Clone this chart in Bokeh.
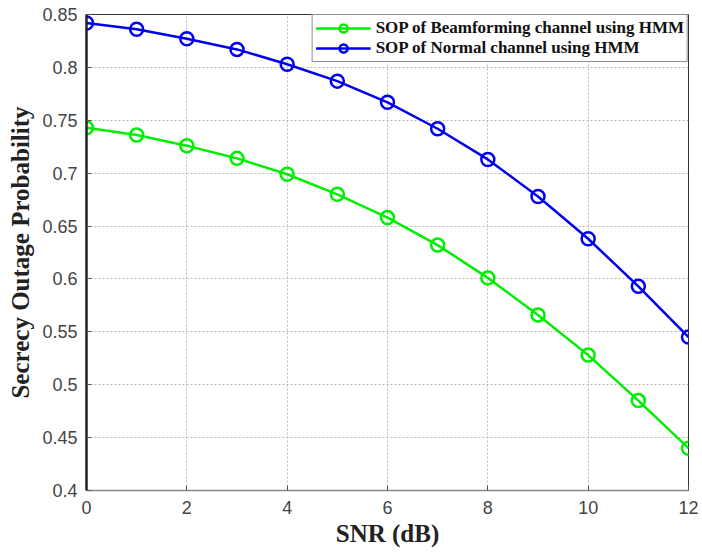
from bokeh.plotting import figure
from bokeh.models import ColumnDataSource, Range1d, FixedTicker, Legend, LegendItem
from bokeh.embed import file_html
from bokeh.resources import INLINE

snr = [0, 1, 2, 3, 4, 5, 6, 7, 8, 9, 10, 11, 12]
sop_beam = [0.743, 0.736, 0.726, 0.714, 0.699, 0.680, 0.658, 0.632, 0.601, 0.566, 0.528, 0.485, 0.440]
sop_normal = [0.842, 0.836, 0.827, 0.817, 0.803, 0.787, 0.767, 0.742, 0.713, 0.678, 0.638, 0.593, 0.545]
x_ticks = [0, 2, 4, 6, 8, 10, 12]
y_ticks = [0.4, 0.45, 0.5, 0.55, 0.6, 0.65, 0.7, 0.75, 0.8, 0.85]
y_tick_labels = ["0.4", "0.45", "0.5", "0.55", "0.6", "0.65", "0.7", "0.75", "0.8", "0.85"]
names = ["SOP of Beamforming channel using HMM", "SOP of Normal channel using HMM"]

p = figure(width=702, height=555, output_backend="svg", toolbar_location=None,
           x_range=Range1d(0, 12), y_range=Range1d(0.4, 0.85),
           min_border_left=86, min_border_right=14, min_border_top=14, min_border_bottom=65)

src = ColumnDataSource(dict(x=snr, a=sop_beam, b=sop_normal))

r1 = p.line("x", "a", source=src, line_color="#00ee00", line_width=2.5)
c1 = p.scatter("x", "a", source=src, marker="circle", size=13, fill_color=None,
               line_color="#00ee00", line_width=2.5)
r2 = p.line("x", "b", source=src, line_color="#0000ee", line_width=2.5)
c2 = p.scatter("x", "b", source=src, marker="circle", size=13, fill_color=None,
               line_color="#0000ee", line_width=2.5)

legend = Legend(items=[LegendItem(label=names[0], renderers=[r1, c1]),
                       LegendItem(label=names[1], renderers=[r2, c2])],
                location="top_right", margin=0, padding=3, spacing=0,
                glyph_width=55, glyph_height=20, label_height=20,
                label_text_font="Liberation Serif", label_text_font_style="bold",
                label_text_font_size="17px", label_text_color="#111111",
                border_line_color="#222222", border_line_width=1,
                background_fill_color="white", background_fill_alpha=1.0,
                label_standoff=5)
p.add_layout(legend)

p.xaxis.ticker = FixedTicker(ticks=x_ticks)
p.yaxis.ticker = FixedTicker(ticks=y_ticks)
p.yaxis.major_label_overrides = dict(zip(y_ticks, y_tick_labels))

for ax in (p.xaxis, p.yaxis):
    ax.major_tick_in = 5
    ax.major_tick_out = 0
    ax.minor_tick_line_color = None
    ax.major_tick_line_color = "#555555"
    ax.major_label_text_font = "Liberation Sans"
    ax.major_label_text_font_size = "18px"
    ax.major_label_text_color = "#444444"
    ax.axis_label_text_font = "Liberation Serif"
    ax.axis_label_text_font_style = "bold"
    ax.axis_label_text_font_size = "25px"
    ax.axis_label_text_color = "#222222"

p.xaxis.axis_label = "SNR (dB)"
p.yaxis.axis_label = "Secrecy Outage Probability"
p.yaxis.axis_line_color = "#222222"
p.yaxis.axis_line_width = 2.5
p.xaxis.axis_line_color = "#888888"
p.xaxis.axis_line_width = 1.5
p.xaxis.major_label_standoff = 10
p.yaxis.major_label_standoff = 9
p.xaxis.axis_label_standoff = 3
p.yaxis.axis_label_standoff = 5

p.grid.grid_line_color = "#bbbbbb"
p.grid.grid_line_dash = "2 2"
p.grid.grid_line_width = 1

p.outline_line_color = "#333333"
p.outline_line_width = 1
p.background_fill_color = "white"
p.border_fill_color = "white"

open("out.html", "w").write(file_html(p, INLINE))
